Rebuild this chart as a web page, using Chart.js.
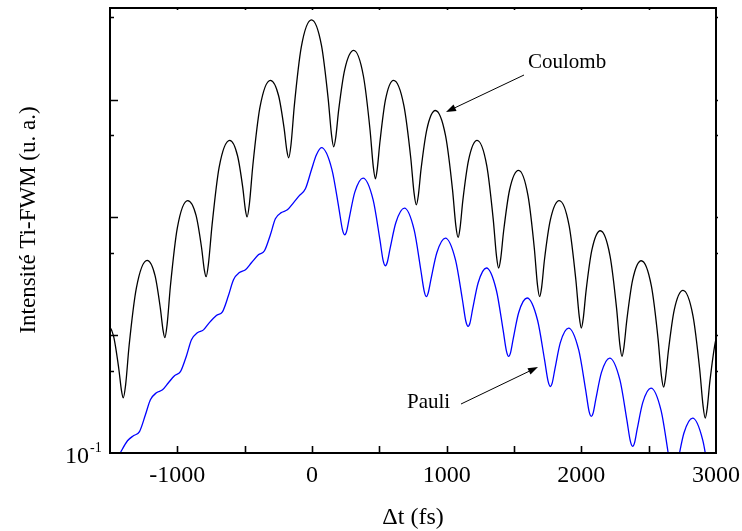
<!DOCTYPE html>
<html>
<head>
<meta charset="utf-8">
<script src="https://cdn.jsdelivr.net/npm/chart.js@4.4.1/dist/chart.umd.min.js"></script>
<style>
  html, body { margin: 0; padding: 0; background: #ffffff; }
  #wrap { width: 742px; height: 531px; position: relative; }
</style>
</head>
<body>
<div id="wrap"><canvas id="c" width="742" height="531"></canvas></div>
<script>
// ---- data ----
// Coulomb curve (black): delay (fs) and intensity (a.u.)
const coulombT = [-1533,-1474,-1435,-1415,-1402,-1384,-1358,-1304,-1224,-1165,-1126,-1106,-1093,-1076,-1051,-1000,-923,-861,-820,-800,-786,-769,-742,-690,-611,-553,-514,-495,-482,-465,-439,-387,-309,-248,-207,-187,-173,-156,-131,-80,-4,70,120,145,161,176,198,243,310,382,431,455,471,484,505,545,606,682,733,758,775,789,810,853,916,992,1043,1068,1085,1099,1120,1163,1226,1298,1346,1370,1386,1401,1423,1467,1534,1604,1651,1674,1690,1705,1726,1770,1836,1910,1959,1984,2000,2014,2035,2078,2141,2213,2262,2286,2302,2316,2338,2381,2445,2520,2570,2594,2611,2625,2647,2690,2755,2829,2879,2904,2920,2934,2955,2998,3061];
const coulombI = [1.33,0.986,0.522,0.340,0.294,0.379,0.817,2.52,4.32,3.19,1.69,1.10,0.953,1.23,2.64,8.15,13.9,10.4,5.53,3.61,3.14,4.04,8.65,26.5,45.1,33.4,17.9,11.7,10.1,13.0,27.9,85.5,146,108,57.0,37.1,32.1,41.4,89.5,278,476,290,102,50.2,39.8,47.5,81.5,180,262,158,55.3,27.0,21.3,25.5,44.3,99.1,146,89.5,32.3,16.1,12.8,15.2,25.8,56.0,80.9,49.2,17.4,8.53,6.76,8.07,13.9,30.8,45.1,27.4,9.59,4.70,3.72,4.45,7.67,17.1,25.1,15.3,5.45,2.69,2.13,2.54,4.35,9.53,13.9,8.43,2.97,1.46,1.15,1.38,2.37,5.27,7.71,4.72,1.68,0.832,0.661,0.787,1.35,2.95,4.29,2.62,0.927,0.458,0.363,0.434,0.745,1.64,2.40,1.46,0.512,0.251,0.198,0.237,0.409,0.910,1.33];

// Pauli curve (blue)
const pauliT = [-1534,-1474,-1422,-1370,-1326,-1281,-1237,-1200,-1155,-1110,-1066,-1021,-977,-932,-895,-851,-806,-762,-710,-665,-621,-583,-539,-494,-450,-398,-353,-309,-272,-227,-183,-138,-94,-49,-4,33,70,148,200,226,243,257,277,318,379,454,504,528,545,559,580,623,686,759,808,833,849,863,884,927,990,1066,1117,1142,1159,1173,1193,1234,1295,1369,1419,1444,1460,1474,1494,1535,1597,1675,1727,1753,1770,1784,1804,1844,1905,1981,2032,2057,2074,2088,2108,2149,2210,2287,2338,2364,2381,2395,2415,2456,2517,2592,2642,2666,2683,2697,2719,2762,2826,2902,2953,2978,2995,3060];
const pauliI = [0.0593,0.0780,0.101,0.127,0.140,0.152,0.211,0.283,0.325,0.344,0.395,0.453,0.490,0.670,0.916,1.05,1.11,1.28,1.47,1.58,2.16,2.96,3.40,3.60,4.12,4.82,5.21,7.13,9.75,11.0,11.6,13.3,15.3,17.5,25.4,34.0,39.1,25.5,11.9,7.89,7.13,7.62,9.93,16.4,21.6,14.1,6.50,4.32,3.89,4.16,5.46,9.06,12.0,7.80,3.58,2.37,2.13,2.29,3.01,5.02,6.68,4.34,2.00,1.32,1.19,1.27,1.67,2.79,3.72,2.41,1.11,0.733,0.661,0.708,0.931,1.56,2.07,1.34,0.617,0.407,0.367,0.394,0.518,0.865,1.15,0.746,0.344,0.227,0.205,0.219,0.288,0.481,0.640,0.415,0.191,0.126,0.114,0.122,0.160,0.268,0.356,0.230,0.105,0.0686,0.0617,0.0661,0.0875,0.148,0.198,0.128,0.0585,0.0385,0.0347,0.0631];

// axis settings
const xMin = -1500, xMax = 3000;
const yMin = 0.1, yMax = 600;
const xTickValues = [-1000, -500, 0, 500, 1000, 1500, 2000, 2500];
const xTickLabels = ["-1000", "0", "1000", "2000", "3000"];
const xLabelValues = [-1000, 0, 1000, 2000, 3000];
const yMajorTicks = [1, 10, 100];
const yMinorTicks = [0.5, 5, 50, 500];

const xTitle = "\u0394t (fs)";
const yTitle = "Intensit\u00e9 Ti-FWM (u. a.)";
const annotCoulomb = "Coulomb";
const annotPauli = "Pauli";

const SERIF = '"Liberation Serif", "Times New Roman", serif';

function pts(T, I) { return T.map((t, i) => ({ x: t, y: I[i] })); }

function arrow(ctx, x1, y1, x2, y2) {
  ctx.save();
  ctx.strokeStyle = '#000'; ctx.fillStyle = '#000'; ctx.lineWidth = 1;
  const a = Math.atan2(y2 - y1, x2 - x1);
  const L = 10, W = 3.5;
  const bx = x2 - L * Math.cos(a), by = y2 - L * Math.sin(a);
  ctx.beginPath(); ctx.moveTo(x1, y1); ctx.lineTo(bx, by); ctx.stroke();
  ctx.beginPath();
  ctx.moveTo(x2, y2);
  ctx.lineTo(bx + W * Math.sin(a), by - W * Math.cos(a));
  ctx.lineTo(bx - W * Math.sin(a), by + W * Math.cos(a));
  ctx.closePath(); ctx.fill();
  ctx.restore();
}

const framePlugin = {
  id: 'frame',
  afterDatasetsDraw(chart) {
    const ctx = chart.ctx, a = chart.chartArea;
    const xs = chart.scales.x, ys = chart.scales.y;
    ctx.save();
    ctx.strokeStyle = '#000';
    ctx.lineWidth = 2;
    ctx.strokeRect(a.left, a.top, a.right - a.left, a.bottom - a.top);
    // x ticks (inward, bottom; small at top)
    ctx.lineWidth = 1.6;
    ctx.beginPath();
    xTickValues.forEach(v => {
      const px = Math.round(xs.getPixelForValue(v)) + 0.5;
      ctx.moveTo(px, a.bottom); ctx.lineTo(px, a.bottom - 7);
      ctx.moveTo(px, a.top); ctx.lineTo(px, a.top + 2);
    });
    // y ticks
    yMajorTicks.forEach(v => {
      const py = Math.round(ys.getPixelForValue(v)) + 0.5;
      ctx.moveTo(a.left, py); ctx.lineTo(a.left + 8, py);
      ctx.moveTo(a.right, py); ctx.lineTo(a.right + 2, py);
    });
    yMinorTicks.forEach(v => {
      const py = Math.round(ys.getPixelForValue(v)) + 0.5;
      ctx.moveTo(a.left, py); ctx.lineTo(a.left + 4, py);
      ctx.moveTo(a.right, py); ctx.lineTo(a.right + 2, py);
    });
    ctx.stroke();

    // tick labels
    ctx.fillStyle = '#000';
    ctx.font = '24px ' + SERIF;
    ctx.textAlign = 'center';
    ctx.textBaseline = 'alphabetic';
    xLabelValues.forEach((v, i) => {
      ctx.fillText(xTickLabels[i], xs.getPixelForValue(v), a.bottom + 29);
    });
    // y label 10^-1
    const yb = ys.getPixelForValue(yMin);
    ctx.textAlign = 'right';
    ctx.fillText('10', 89, yb + 10);
    ctx.textAlign = 'left';
    ctx.font = '14px ' + SERIF;
    ctx.fillText('-1', 90, yb - 1);

    // axis titles
    ctx.font = '24px ' + SERIF;
    ctx.textAlign = 'center';
    ctx.fillText(xTitle, (a.left + a.right) / 2, 524);
    ctx.save();
    ctx.translate(35, 220);
    ctx.rotate(-Math.PI / 2);
    ctx.font = '23px ' + SERIF;
    ctx.textAlign = 'center';
    ctx.fillText(yTitle, 0, 0);
    ctx.restore();

    // annotations
    ctx.font = '21px ' + SERIF;
    ctx.textAlign = 'left';
    ctx.fillText(annotCoulomb, 528, 68);
    ctx.fillText(annotPauli, 407, 408);
    arrow(ctx, 524, 75, 446, 112);
    arrow(ctx, 461, 404, 538, 367);
    ctx.restore();
  }
};

new Chart(document.getElementById('c'), {
  type: 'line',
  data: {
    datasets: [
      { label: 'Coulomb', data: pts(coulombT, coulombI), borderColor: '#000000', borderWidth: 1.3,
        pointRadius: 0, cubicInterpolationMode: 'monotone', fill: false, clip: 0 },
      { label: 'Pauli', data: pts(pauliT, pauliI), borderColor: '#0000ff', borderWidth: 1.3,
        pointRadius: 0, cubicInterpolationMode: 'monotone', fill: false, clip: 0 }
    ]
  },
  options: {
    responsive: false,
    animation: false,
    devicePixelRatio: 1,
    layout: { padding: { left: 110, right: 26, top: 8, bottom: 78 } },
    plugins: { legend: { display: false }, tooltip: { enabled: false } },
    scales: {
      x: { type: 'linear', min: xMin, max: xMax, display: false },
      y: { type: 'logarithmic', min: yMin, max: yMax, display: false }
    }
  },
  plugins: [framePlugin]
});
</script>
</body>
</html>
